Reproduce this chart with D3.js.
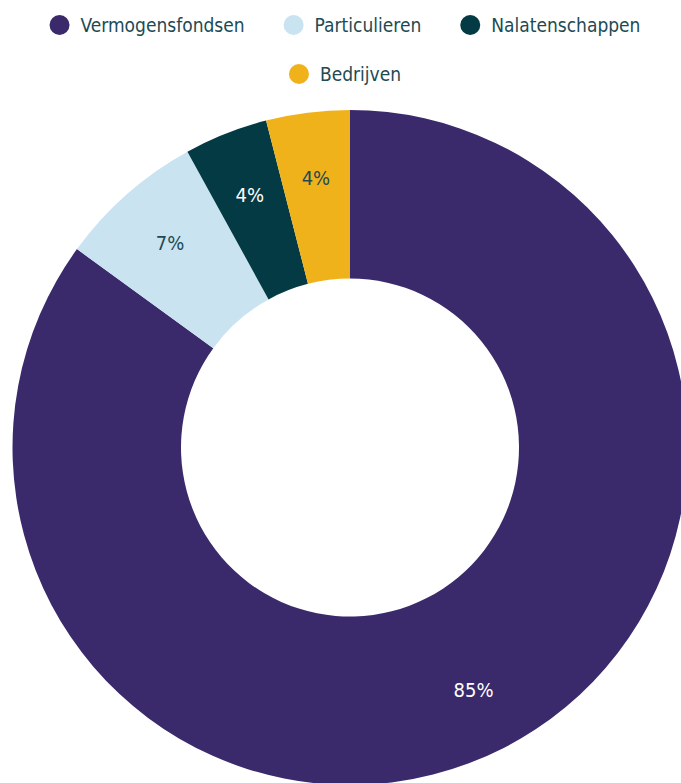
<!DOCTYPE html>
<html>
<head>
<meta charset="utf-8">
<script src="https://cdn.jsdelivr.net/npm/d3@7"></script>
<style>
  body { margin: 0; background: #fff; }
  svg { display: block; font-family: "DejaVu Sans Condensed", "DejaVu Sans", sans-serif; }
</style>
</head>
<body>
<svg id="drawing_region"></svg>
<script>
const categories = ["Vermogensfondsen", "Particulieren", "Nalatenschappen", "Bedrijven"];
const values = [85, 7, 4, 4];
const colors = ["#3b2a6b", "#c9e3f1", "#033a43", "#f0b21b"];
const labelColors = ["#ffffff", "#1d4a54", "#ffffff", "#1d4a54"];

const width = 681;
const height = 783;
const cx = 350, cy = 447.5;
const outer = 337.5, inner = 169;
const labelRadius = 272;

const svg = d3.select('#drawing_region')
    .attr('width', width)
    .attr('height', height);

const data = categories.map((c, i) => ({ name: c, value: values[i], color: colors[i], labelColor: labelColors[i] }));

// donut
const pie = d3.pie().sort(null).value(d => d.value);
const arc = d3.arc().innerRadius(inner).outerRadius(outer);
const labelArc = d3.arc().innerRadius(labelRadius).outerRadius(labelRadius);

const chart = svg.append('g')
    .attr('transform', `translate(${cx}, ${cy})`);

const arcs = pie(data);

chart.selectAll('path')
    .data(arcs)
    .join('path')
    .attr('d', arc)
    .attr('fill', d => d.data.color);

const total = d3.sum(values);
chart.selectAll('text')
    .data(arcs)
    .join('text')
    .attr('transform', d => `translate(${labelArc.centroid(d)})`)
    .attr('text-anchor', 'middle')
    .attr('dominant-baseline', 'central')
    .attr('font-size', '20px')
    .attr('fill', d => d.data.labelColor)
    .text(d => Math.round(d.data.value / total * 100) + '%');

// legend, centred rows that wrap
const legend = svg.append('g');
const maxRow = 640, gap = 39, dotR = 10, dotGap = 11;
const items = legend.selectAll('g')
    .data(data)
    .join('g');

items.append('circle')
    .attr('r', dotR)
    .attr('fill', d => d.color);

items.append('text')
    .attr('x', dotR + dotGap)
    .attr('dominant-baseline', 'central')
    .attr('font-size', '19px')
    .attr('fill', '#1d4a54')
    .text(d => d.name);

const rows = [[]];
let rowW = 0;
items.each(function(d) {
    const w = 2 * dotR + dotGap + d3.select(this).select('text').node().getComputedTextLength();
    const row = rows[rows.length - 1];
    const need = row.length ? rowW + gap + w : w;
    if (row.length && need > maxRow) {
        rows.push([{ node: this, w }]);
        rowW = w;
    } else {
        row.push({ node: this, w });
        rowW = need;
    }
});

rows.forEach((row, ri) => {
    const total = d3.sum(row, r => r.w) + gap * (row.length - 1);
    let x = 345 - total / 2;
    row.forEach(r => {
        d3.select(r.node).attr('transform', `translate(${x + dotR}, ${25 + ri * 49})`);
        x += r.w + gap;
    });
});
</script>
</body>
</html>
